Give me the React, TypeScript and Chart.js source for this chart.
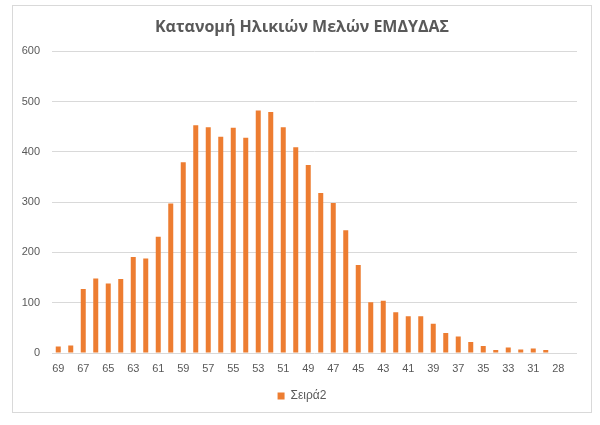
import React, { useEffect, useRef } from "react";
import { Chart, registerables } from "chart.js";

Chart.register(...registerables);

const ages: string[] = [
  "69", "68", "67", "66", "65", "64", "63", "62", "61", "60",
  "59", "58", "57", "56", "55", "54", "53", "52", "51", "50",
  "49", "48", "47", "46", "45", "44", "43", "42", "41", "40",
  "39", "38", "37", "36", "35", "34", "33", "32", "31", "30",
  "28", "",
];

const members: number[] = [
  13, 15, 127, 148, 138, 147, 191, 188, 231, 297,
  379, 453, 449, 430, 448, 428, 482, 479, 449, 409,
  374, 318, 298, 244, 175, 101, 104, 81, 73, 73,
  58, 40, 33, 22, 14, 6, 11, 7, 9, 6,
  0, 0,
];

const yTicks: number[] = [0, 100, 200, 300, 400, 500, 600];

const titleText = "Κατανομή Ηλικιών Μελών ΕΜΔΥΔΑΣ";
const seriesName = "Σειρά2";

export default function App() {
  const ref = useRef<HTMLCanvasElement | null>(null);

  useEffect(() => {
    if (!ref.current) return;
    const grey = "#595959";
    const sans = "'Liberation Sans', Arial, sans-serif";
    const chart = new Chart(ref.current, {
      type: "bar",
      data: {
        labels: ages,
        datasets: [
          {
            label: seriesName,
            data: members,
            backgroundColor: "#ED7D31",
            borderWidth: 0,
            barPercentage: 0.4,
            categoryPercentage: 1,
          },
        ],
      },
      options: {
        animation: false,
        responsive: false,
        maintainAspectRatio: false,
        layout: { padding: 0 },
        plugins: {
          title: {
            display: true,
            text: titleText,
            color: grey,
            font: { family: "'Open Sans', sans-serif", size: 16, weight: "bold" },
            padding: { top: 12, bottom: 14 },
          },
          legend: {
            display: true,
            position: "bottom",
            labels: {
              color: grey,
              boxWidth: 7,
              boxHeight: 7,
              padding: 13,
              font: { family: sans, size: 12 },
            },
          },
          tooltip: { enabled: false },
        },
        scales: {
          x: {
            afterFit: (s: any) => {
              s.height = 24;
            },
            grid: { display: false, drawTicks: false },
            border: { display: false },
            ticks: {
              color: grey,
              autoSkip: false,
              maxRotation: 0,
              minRotation: 0,
              padding: 9,
              font: { family: sans, size: 11 },
              callback: (_v: any, i: number) => (i % 2 === 0 ? ages[i] : ""),
            },
          },
          y: {
            min: 0,
            max: 600,
            afterFit: (s: any) => {
              s.width = 39;
            },
            afterBuildTicks: (s: any) => {
              s.ticks = yTicks.map((v) => ({ value: v }));
            },
            grid: { color: "#d9d9d9", lineWidth: 1, drawTicks: false },
            border: { display: false },
            ticks: {
              color: grey,
              padding: 12,
              font: { family: sans, size: 11 },
            },
          },
          yRight: {
            position: "right",
            min: 0,
            max: 1,
            afterFit: (s: any) => {
              s.width = 14;
            },
            grid: { display: false, drawTicks: false },
            border: { display: false },
            ticks: { display: false },
          },
        },
      },
    });
    return () => chart.destroy();
  }, []);

  return (
    <div
      style={{
        position: "absolute",
        left: 12,
        top: 5,
        width: 580,
        height: 408,
        boxSizing: "border-box",
        border: "1px solid #d9d9d9",
        background: "#fff",
      }}
    >
      <canvas ref={ref} width={578} height={406} style={{ display: "block", width: 578, height: 406 }} />
    </div>
  );
}
